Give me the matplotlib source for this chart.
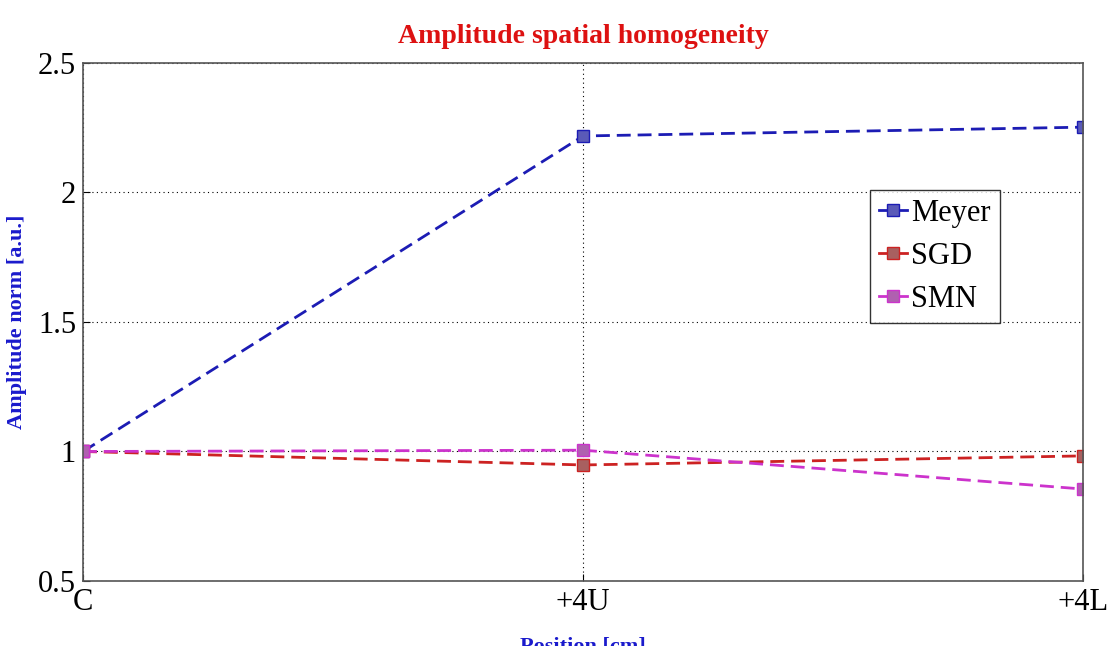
import matplotlib
matplotlib.use("Agg")
import matplotlib.pyplot as plt

positions = ["C", "+4U", "+4L"]
meyer = [1.0, 2.218, 2.252]
sgd = [1.0, 0.948, 0.983]
smn = [1.0, 1.005, 0.855]
yticks = [0.5, 1, 1.5, 2, 2.5]

plt.rcParams['font.family'] = ['Liberation Serif', 'DejaVu Serif']

fig = plt.figure(figsize=(11.1, 6.46), dpi=100)
ax = fig.add_axes([0.0748, 0.1006, 0.901, 0.802])

x = range(len(positions))
ax.plot(x, meyer, '--s', color='#1c1cb4', mfc='#5a5ab8', mec='#1c1cb4',
        lw=2.0, ms=8, dashes=(5, 2.5), label='Meyer')
ax.plot(x, sgd, '--s', color='#cc2222', mfc='#a86060', mec='#cc2222',
        lw=2.0, ms=8, dashes=(5, 2.5), label='SGD')
ax.plot(x, smn, '--s', color='#cc33cc', mfc='#b060b0', mec='#cc33cc',
        lw=2.0, ms=8, dashes=(5, 2.5), label='SMN')

ax.set_xlim(0, 2)
ax.set_ylim(0.5, 2.5)
ax.set_xticks(list(x))
ax.set_xticklabels(positions)
ax.set_yticks(yticks)
ax.set_yticklabels(['0.5', '1', '1.5', '2', '2.5'])
ax.tick_params(direction='in', labelsize=22, length=5, pad=5)
ax.grid(True, color='black', linestyle=(0, (1, 3)), linewidth=0.8)
for s in ax.spines.values():
    s.set_color('#555555')
    s.set_linewidth(1.2)

ax.set_title('Amplitude spatial homogeneity', color='#dd1111',
             fontweight='bold', fontsize=20, pad=14)
ax.set_ylabel('Amplitude norm [a.u.]', color='#1a1acc',
              fontweight='bold', fontsize=16, labelpad=8)
ax.set_xlabel('Position [cm]', color='#1a1acc',
              fontweight='bold', fontsize=16, labelpad=14)

leg = ax.legend(loc='upper left', bbox_to_anchor=(0.787, 0.755),
                fontsize=22, frameon=True, fancybox=False,
                handlelength=0.9, handletextpad=0.15, borderpad=0.3,
                labelspacing=0.45, borderaxespad=0)
leg.get_frame().set_edgecolor('black')
leg.get_frame().set_linewidth(1.0)
for h in leg.get_lines():
    h.set_linestyle('-')

fig.savefig('out.png', dpi=100)
